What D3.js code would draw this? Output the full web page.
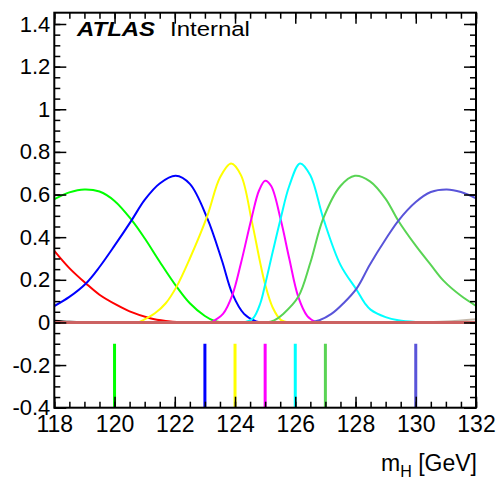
<!DOCTYPE html>
<html>
<head>
<meta charset="utf-8">
<script src="https://cdn.jsdelivr.net/npm/d3@7/dist/d3.min.js"></script>
<style>
  body { margin: 0; background: #fff; }
  svg text { font-family: "Liberation Sans", Arial, Helvetica, sans-serif; fill: #000; }
</style>
</head>
<body>
<div id="chart"></div>
<script>
// signal shapes, [mH, value] pairs
const shapeBlack = [[118, 0.008], [118.5, 0.003], [119, 0.0005], [119.5, 0]];
const shapeRed = [[118, 0.336], [118.5, 0.255], [119.05, 0.183], [119.5, 0.13], [120.07, 0.082],
  [120.5, 0.052], [121.18, 0.02], [121.7, 0.007], [122.2, 0.001], [122.6, 0]];
const shapeGreen = [[118, 0.578], [118.5, 0.61], [119, 0.624], [119.5, 0.614], [120, 0.57],
  [120.57, 0.48], [121, 0.395], [121.5, 0.285], [122.06, 0.168], [122.5, 0.09], [123, 0.03],
  [123.3, 0.008], [123.6, 0]];
const shapeBlue = [[118, 0.077], [118.5, 0.12], [119.05, 0.183], [119.5, 0.26], [120, 0.36],
  [120.57, 0.48], [121, 0.575], [121.5, 0.652], [122.03, 0.688], [122.5, 0.65], [123.08, 0.488],
  [123.56, 0.293], [123.91, 0.135], [124.3, 0.04], [124.7, 0.005], [125, 0]];
const shapeYellow = [[120.8, 0], [121.34, 0.043], [121.7, 0.09], [122.06, 0.168], [122.5, 0.3],
  [123.08, 0.5], [123.5, 0.68], [123.87, 0.746], [124.2, 0.69], [124.55, 0.48], [124.84, 0.277],
  [125, 0.178], [125.25, 0.07], [125.52, 0.012], [125.8, 0]];
const shapeMagenta = [[123.2, 0], [123.6, 0.04], [123.91, 0.128], [124.2, 0.28], [124.55, 0.49],
  [124.8, 0.62], [125, 0.665], [125.2, 0.64], [125.52, 0.48], [125.8, 0.3], [126.1, 0.12],
  [126.4, 0.03], [126.7, 0]];
const shapeCyan = [[124.3, 0], [124.6, 0.02], [124.84, 0.09], [125, 0.178], [125.25, 0.33],
  [125.52, 0.49], [125.8, 0.64], [126.16, 0.746], [126.5, 0.69], [126.93, 0.488], [127.5, 0.27],
  [128.04, 0.152], [128.31, 0.09], [128.5, 0.06], [129, 0.025], [129.42, 0.01], [130, 0.002],
  [130.5, 0]];
const shapeGreen2 = [[125, 0], [125.3, 0.01], [125.6, 0.04], [126.1, 0.12], [126.5, 0.28],
  [126.93, 0.488], [127.5, 0.64], [127.98, 0.688], [128.48, 0.662], [129, 0.58], [129.42, 0.477],
  [130, 0.36], [130.5, 0.27], [130.92, 0.196], [131.5, 0.125], [132, 0.078]];
const shapeSlate = [[126.5, 0], [126.8, 0.01], [127.2, 0.04], [127.6, 0.09], [128.04, 0.16],
  [128.48, 0.272], [129, 0.39], [129.42, 0.477], [130, 0.565], [130.5, 0.612],
  [131.03, 0.624], [131.5, 0.612], [132, 0.582]];
const shapeGrey = [[130, 0], [131, 0.004], [132, 0.015]];
const shapeFlat = [[118, 0], [132, 0]];

// generated mass points shown as markers below zero
const markerMasses = [120, 123, 124, 125, 126, 127, 130];
const markerColors = ['#00ff00', '#0000ff', '#ffff00', '#ff00ff', '#00ffff', '#59d454', '#5954d9'];

const xTicks = [118, 120, 122, 124, 126, 128, 130, 132];
const yTicks = [-0.4, -0.2, 0, 0.2, 0.4, 0.6, 0.8, 1, 1.2, 1.4];
const yTickLabels = ['-0.4', '-0.2', '0', '0.2', '0.4', '0.6', '0.8', '1', '1.2', '1.4'];

const width = 496;
const height = 485;
const frame = {left: 54.3, right: 476, top: 12.7, bottom: 407.7};

const svg = d3.select('#chart')
  .append('svg')
  .attr('width', width)
  .attr('height', height);

const x = d3.scaleLinear().domain([118, 132]).range([frame.left, frame.right]);
const y = d3.scaleLinear().domain([-0.4, 1.453]).range([frame.bottom, frame.top]);

svg.append('clipPath')
  .attr('id', 'plot-clip')
  .append('rect')
  .attr('x', frame.left)
  .attr('y', frame.top)
  .attr('width', frame.right - frame.left)
  .attr('height', frame.bottom - frame.top);

const line = d3.line()
  .curve(d3.curveCatmullRom.alpha(0.5))
  .x(d => x(d[0]))
  .y(d => y(d[1]));

const curves = [
  {data: shapeGrey, color: '#c4b8aa'},
  {data: shapeBlack, color: '#000000'},
  {data: shapeRed, color: '#ff0000'},
  {data: shapeGreen, color: '#00ff00'},
  {data: shapeBlue, color: '#0000ff'},
  {data: shapeYellow, color: '#ffff00'},
  {data: shapeMagenta, color: '#ff00ff'},
  {data: shapeCyan, color: '#00ffff'},
  {data: shapeGreen2, color: '#59d454'},
  {data: shapeSlate, color: '#5954d9'}
];

const plot = svg.append('g').attr('clip-path', 'url(#plot-clip)');

curves.forEach(c => {
  plot.append('path')
    .datum(c.data)
    .attr('d', line)
    .attr('fill', 'none')
    .attr('stroke', c.color)
    .attr('stroke-width', 2);
});

// flat line on top of the tails
plot.append('path')
  .datum(shapeFlat)
  .attr('d', line)
  .attr('fill', 'none')
  .attr('stroke', '#cc6262')
  .attr('stroke-width', 3);

plot.selectAll('line.marker')
  .data(markerMasses)
  .enter()
  .append('line')
  .attr('class', 'marker')
  .attr('x1', d => x(d))
  .attr('x2', d => x(d))
  .attr('y1', y(-0.1))
  .attr('y2', y(-0.4))
  .attr('stroke', (d, i) => markerColors[i])
  .attr('stroke-width', 3);

// axes, ROOT style: ticks pointing inwards on all four sides
const xMinor = d3.range(118, 132.01, 0.5);
const yMinor = d3.range(-0.4, 1.45, 0.05);

const drawAxis = (axis, transform) => {
  const g = svg.append('g')
    .attr('transform', transform)
    .call(axis);
  g.select('.domain').remove();
  g.selectAll('.tick line').attr('stroke', '#000').attr('stroke-width', 1.5);
  return g;
};

drawAxis(d3.axisBottom(x).tickValues(xMinor).tickSize(-6).tickFormat(''), `translate(0,${frame.bottom})`);
drawAxis(d3.axisTop(x).tickValues(xMinor).tickSize(-6).tickFormat(''), `translate(0,${frame.top})`);
drawAxis(d3.axisTop(x).tickValues(xTicks).tickSize(-11).tickFormat(''), `translate(0,${frame.top})`);
const xAxis = drawAxis(d3.axisBottom(x).tickValues(xTicks).tickSize(-11).tickPadding(8).tickFormat(d3.format('d')),
  `translate(0,${frame.bottom})`);
xAxis.selectAll('text').attr('font-size', 23);

drawAxis(d3.axisLeft(y).tickValues(yMinor).tickSize(-6).tickFormat(''), `translate(${frame.left},0)`);
drawAxis(d3.axisRight(y).tickValues(yMinor).tickSize(-6).tickFormat(''), `translate(${frame.right},0)`);
drawAxis(d3.axisRight(y).tickValues(yTicks).tickSize(-12).tickFormat(''), `translate(${frame.right},0)`);
const yAxis = drawAxis(d3.axisLeft(y).tickValues(yTicks).tickSize(-12).tickPadding(4)
  .tickFormat((d, i) => yTickLabels[i]), `translate(${frame.left},0)`);
yAxis.selectAll('text').attr('font-size', 22);

svg.append('rect')
  .attr('x', frame.left)
  .attr('y', frame.top)
  .attr('width', frame.right - frame.left)
  .attr('height', frame.bottom - frame.top)
  .attr('fill', 'none')
  .attr('stroke', '#000')
  .attr('stroke-width', 2);

// x axis title
const title = svg.append('text')
  .attr('x', frame.right + 1)
  .attr('y', 471)
  .attr('text-anchor', 'end')
  .attr('font-size', 23);
title.append('tspan').text('m');
title.append('tspan').attr('font-size', 16).attr('dy', 6).text('H');
title.append('tspan').attr('dy', -6).text(' [GeV]');

// label, slightly widened like the original font
const label = svg.append('g').attr('transform', 'translate(77,36) scale(1.17,1)');
label.append('text')
  .attr('font-size', 20.5)
  .attr('font-weight', 'bold')
  .attr('font-style', 'italic')
  .text('ATLAS');
label.append('text')
  .attr('x', 93 / 1.17)
  .attr('font-size', 20.5)
  .text('Internal');
</script>
</body>
</html>
